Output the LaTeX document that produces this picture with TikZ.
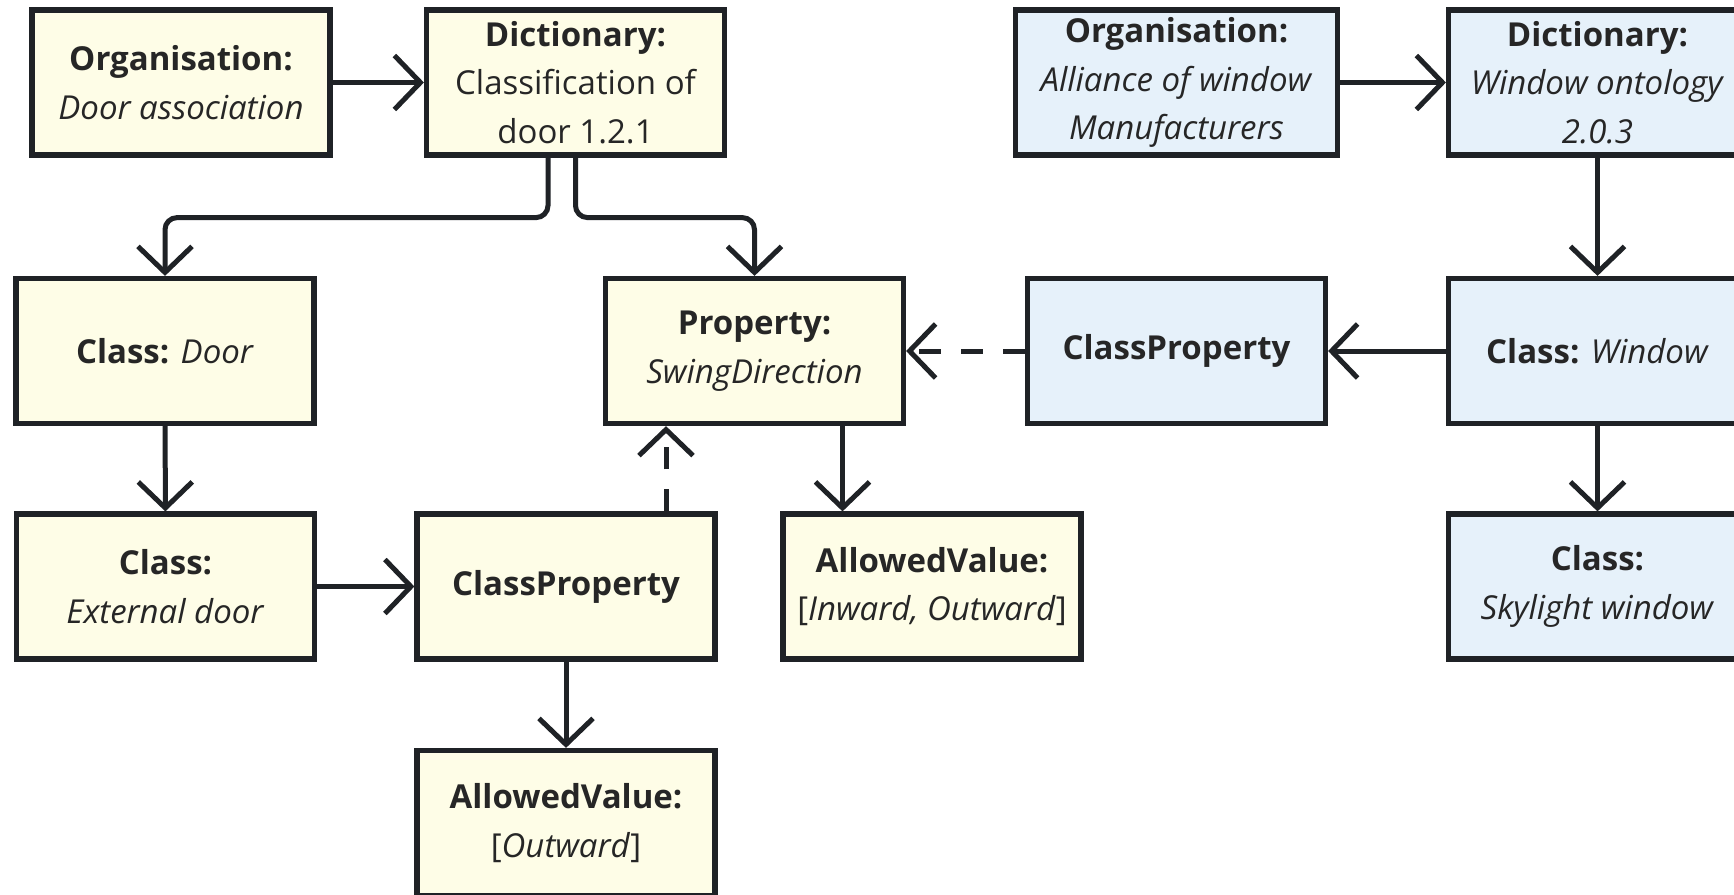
\documentclass[tikz,border=0pt]{standalone}
\usepackage{fontspec}
\setmainfont{Open Sans}
\usetikzlibrary{arrows.meta}
\definecolor{doorfill}{HTML}{FEFDE7}
\definecolor{winfill}{HTML}{E6F1FA}
\definecolor{framec}{HTML}{1F2226}
\definecolor{ink}{HTML}{262626}
\tikzset{
  card/.style={draw=framec, line width=2.6pt, minimum width=149pt, minimum height=72.5pt,
    align=center, text=ink, inner sep=2pt, font=\fontsize{16.5}{24.3}\selectfont},
  doorcard/.style={card, fill=doorfill},
  wincard/.style={card, fill=winfill},
  link/.style={draw=framec, line width=2.5pt, -{Straight Barb[length=13pt,width=27pt]}},
  reflink/.style={link, dash pattern=on 11pt off 10pt},
}

\begin{document}
\begin{tikzpicture}[x=50pt,y=50pt]
  \useasboundingbox (0,0) rectangle (17.34,-8.94);

  \node[doorcard] (org1) at (1.81,-0.825) {\textbf{Organisation:}\\\textit{Door association}};
  \node[doorcard] (dict1) at (5.755,-0.825) {\textbf{Dictionary:}\\Classification of\\door 1.2.1};
  \node[doorcard] (door) at (1.65,-3.51) {\textbf{Class:} \textit{Door}};
  \node[doorcard] (prop) at (7.545,-3.51) {\textbf{Property:}\\\textit{SwingDirection}};
  \node[doorcard] (ext) at (1.655,-5.865) {\textbf{Class:}\\\textit{External door}};
  \node[doorcard] (cpy) at (5.66,-5.865) {\textbf{ClassProperty}};
  \node[doorcard] (av1) at (9.32,-5.865) {\textbf{AllowedValue:}\\{}[\textit{Inward, Outward}]};
  \node[doorcard] (av2) at (5.66,-8.23) {\textbf{AllowedValue:}\\{}[\textit{Outward}]};

  \node[wincard, minimum width=161pt] (org2) at (11.765,-0.825) {\textbf{Organisation:}\\\textit{Alliance of window}\\\textit{Manufacturers}};
  \node[wincard] (dict2) at (15.975,-0.825) {\textbf{Dictionary:}\\\textit{Window ontology}\\\textit{2.0.3}};
  \node[wincard] (cpb) at (11.765,-3.51) {\textbf{ClassProperty}};
  \node[wincard] (win) at (15.975,-3.51) {\textbf{Class:} \textit{Window}};
  \node[wincard] (sky) at (15.975,-5.865) {\textbf{Class:}\\\textit{Skylight window}};

  \draw[link] (org1) -- (dict1);
  \draw[link, rounded corners=6pt] ([xshift=-13.75pt]dict1.south) -- ++(0,-0.6) -| (door.north);
  \draw[link, rounded corners=6pt] (dict1.south) -- ++(0,-0.6) -| (prop.north);
  \draw[link] (door) -- (ext);
  \draw[link] (ext) -- (cpy);
  \coordinate (cpyup) at ([xshift=50pt]cpy.north);
  \draw[reflink] (cpyup) -- (cpyup |- prop.south);
  \coordinate (propdn) at ([xshift=44pt]prop.south);
  \draw[link] (propdn) -- (propdn |- av1.north);
  \draw[link] (cpy) -- (av2);

  \draw[link] (org2) -- (dict2);
  \draw[link] (dict2) -- (win);
  \draw[link] (win) -- (cpb);
  \draw[reflink] (cpb) -- (prop);
  \draw[link] (win) -- (sky);
\end{tikzpicture}
\end{document}
